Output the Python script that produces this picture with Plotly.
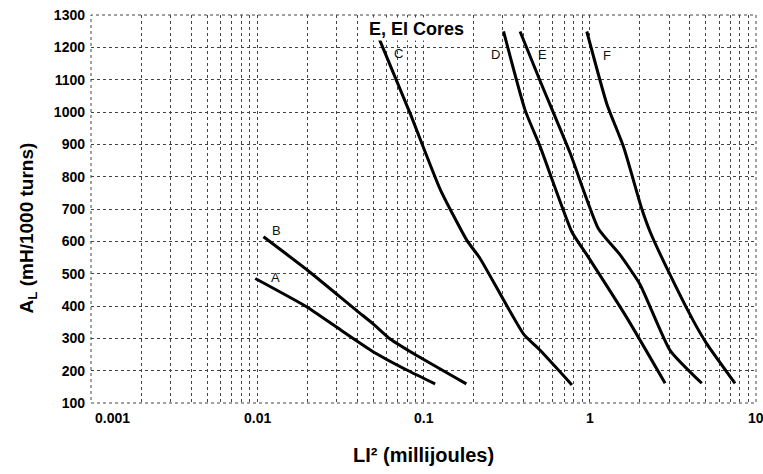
import math
import plotly.graph_objects as go

# Curve data (LI^2 in millijoules, A_L in mH/1000 turns)
a_x = [0.00973, 0.0199, 0.0301, 0.050, 0.0794, 0.1175]
a_y = [485, 397, 334, 258, 202, 159]

b_x = [0.0109, 0.0199, 0.0398, 0.050, 0.063, 0.087, 0.181]
b_y = [614, 512, 385, 344, 298, 253, 159]

c_x = [0.0544, 0.0832, 0.126, 0.1824, 0.219, 0.399, 0.503, 0.781]
c_y = [1224, 995, 761, 603, 547, 314, 263, 156]

d_x = [0.303, 0.409, 0.503, 0.781, 0.961, 1.67, 2.84]
d_y = [1249, 1005, 893, 629, 558, 364, 161]

e_x = [0.381, 0.503, 0.762, 1.128, 1.523, 2.01, 3.04, 4.72]
e_y = [1249, 1096, 873, 639, 558, 466, 263, 161]

f_x = [0.96, 1.267, 1.595, 2.057, 2.31, 2.91, 4.2, 5.06, 7.48]
f_y = [1249, 1025, 893, 700, 629, 517, 354, 283, 161]

curve_names = ["A", "B", "C", "D", "E", "F"]
label_x = [0.01283, 0.0130, 0.0708, 0.270, 0.522, 1.267]
label_y = [488, 634, 1180, 1177, 1177, 1175]

x_tickvals = [0.001, 0.01, 0.1, 1, 10]
x_ticktext = ["0.001", "0.01", "0.1", "1", "10"]
y_tickvals = list(range(100, 1301, 100))
y_ticktext = [str(v) for v in y_tickvals]

title_text = "E, EI Cores"
title_x = 0.0458
title_y = 1256

x_title = "LI² (millijoules)"
y_title = "A<sub>L</sub> (mH/1000 turns)"

minor_x = [m * 10 ** e for e in (-3, -2, -1, 0) for m in range(2, 10)]

FONT = "Liberation Sans, Arial"

fig = go.Figure()
for xs, ys in [(a_x, a_y), (b_x, b_y), (c_x, c_y), (d_x, d_y), (e_x, e_y), (f_x, f_y)]:
    fig.add_trace(go.Scatter(x=xs, y=ys, mode="lines",
                             line=dict(color="black", width=3, shape="spline", smoothing=0.5),
                             showlegend=False, hoverinfo="skip"))

for n, lx, ly in zip(curve_names, label_x, label_y):
    fig.add_annotation(x=math.log10(lx), y=ly, xref="x", yref="y", text=n, showarrow=False,
                       xanchor="center", yanchor="middle",
                       font=dict(family=FONT, size=13, color="#111"))

fig.add_annotation(x=math.log10(title_x), y=title_y, xref="x", yref="y",
                   text="<b>" + title_text + "</b>",
                   showarrow=False, xanchor="left", yanchor="middle",
                   bgcolor="white", borderpad=1,
                   font=dict(family=FONT, size=18, color="black"))

# x tick labels (first one sits to the right of the axis corner, as in the reference)
for i, (v, t) in enumerate(zip(x_tickvals, x_ticktext)):
    fig.add_annotation(x=math.log10(v), y=0, xref="x", yref="paper",
                       text="<b>" + t + "</b>", showarrow=False,
                       xanchor="left" if i == 0 else "center", yanchor="top",
                       xshift=2 if i == 0 else 0, yshift=-5,
                       font=dict(family=FONT, size=14, color="black"))

# axis titles
fig.add_annotation(x=0.5, y=0, xref="paper", yref="paper", text="<b>" + x_title + "</b>",
                   showarrow=False, xanchor="center", yanchor="middle", yshift=-52,
                   font=dict(family=FONT, size=20, color="black"))
fig.add_annotation(x=0, y=0.45, xref="paper", yref="paper", text="<b>" + y_title + "</b>",
                   showarrow=False, xanchor="center", yanchor="middle", xshift=-63,
                   textangle=-90, font=dict(family=FONT, size=19, color="black"))

fig.update_xaxes(type="log", range=[-3, 1], tickvals=x_tickvals, ticktext=x_ticktext,
                 showticklabels=False,
                 ticks="", zeroline=False, showline=False,
                 showgrid=True, gridcolor="#444", griddash="dot", gridwidth=1,
                 minor=dict(tickvals=minor_x, showgrid=True, gridcolor="#444",
                            griddash="dot", gridwidth=1, ticks=""))
fig.update_yaxes(range=[100, 1300], tickvals=y_tickvals,
                 ticktext=["<b>" + t + "</b>" for t in y_ticktext], ticks="",
                 zeroline=False, showline=False, ticklabelstandoff=5,
                 showgrid=True, gridcolor="#444", griddash="dot", gridwidth=1,
                 tickfont=dict(family=FONT, size=14, color="black"))

fig.add_shape(type="rect", xref="paper", yref="paper", x0=0, y0=0, x1=1, y1=1,
              line=dict(color="#444", width=1, dash="dot"), layer="below")

fig.update_layout(width=763, height=474, margin=dict(l=91, r=7, t=10, b=71),
                  plot_bgcolor="white", paper_bgcolor="white",
                  font=dict(family=FONT, color="black"))

fig.write_html("out.html")
